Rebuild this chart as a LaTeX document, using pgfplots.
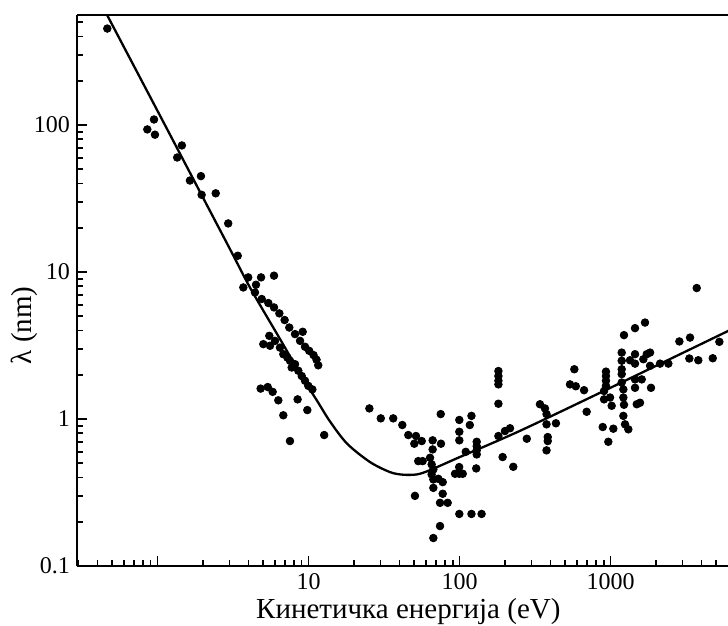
\documentclass[border=0pt]{standalone}
\usepackage{fontspec}
\setmainfont{Liberation Serif}
\usepackage{pgfplots}
\pgfplotsset{compat=1.18}
\begin{document}
\begin{tikzpicture}
\begin{loglogaxis}[
  at={(0,0)}, anchor=south west,
  scale only axis, width=325.5pt, height=275.5pt,
  xmin=0.293, xmax=6000, ymin=0.1, ymax=560,
  axis lines=left, axis line style={-, line width=1pt, black},
  tick align=inside,
  major tick length=5pt, minor tick length=3pt,
  every tick/.style={black, line width=0.9pt},
  xtick={1,10,100,1000}, xticklabels={,10,100,1000},
  minor xtick={0.3,0.4,0.5,0.6,0.7,0.8,0.9,2,3,4,5,6,7,8,9,20,30,40,50,60,70,80,90,200,300,400,500,600,700,800,900,2000,3000,4000,5000},
  ytick={0.1,1,10,100}, yticklabels={0.1,1,10,100},
  minor ytick={0.2,0.3,0.4,0.5,0.6,0.7,0.8,0.9,2,3,4,5,6,7,8,9,20,30,40,50,60,70,80,90,200,300,400,500},
  tick label style={font=\fontsize{12}{14}\selectfont},
  /pgf/number format/assume math mode=true,
  xlabel={Кинетичка енергија (eV)},
  ylabel={λ (nm)},
  label style={font=\fontsize{14.5}{16}\selectfont},
  xlabel style={at={(axis description cs:0.509,-0.0944)}, anchor=base},
  ylabel style={at={(axis description cs:-0.0814,0.437)}, anchor=center},
  clip=true,
  after end axis/.code={\draw[line width=1pt] (rel axis cs:0,1) -- (rel axis cs:1,1);},
]
\addplot[black, line width=1.15pt, smooth, no markers] table {
E L
0.44 620
1.12 100
2 32.1
3 14.5
4 8.2
5 5.5
6 4.0
7 3.05
8.79 2.03
10 1.64
11.4 1.33
13.9 0.96
18 0.68
25.5 0.51
34.7 0.435
42.3 0.418
52.3 0.42
63.8 0.449
100 0.55
251 0.83
1023 1.65
6100 4.0
};
\addplot[only marks, mark=*, mark size=1.9pt, black] table {
E L
0.465 453
0.856 93.3
0.948 109
0.962 85.9
1.35 60.1
1.45 72.6
1.64 41.9
1.94 44.9
1.96 33.5
2.43 34.3
2.94 21.4
3.40 12.9
3.70 7.85
3.99 9.19
4.85 9.19
5.91 9.44
4.49 8.19
4.42 7.26
4.90 6.55
5.42 6.15
5.91 5.74
6.41 5.23
6.95 4.71
7.46 4.19
8.14 3.78
9.15 3.92
8.79 3.40
9.48 3.10
10.1 2.91
10.8 2.72
11.3 2.53
11.6 2.32
5.50 3.68
5.02 3.23
5.56 3.15
6.00 3.40
6.47 3.06
6.81 2.76
7.24 2.62
7.54 2.49
7.74 2.24
8.14 2.36
8.56 2.13
9.02 1.96
9.48 1.82
9.97 1.68
10.6 1.59
4.82 1.61
5.37 1.65
5.79 1.53
6.31 1.34
6.81 1.06
8.47 1.36
9.82 1.15
12.7 0.778
7.54 0.708
25.3 1.18
30.1 1.01
36.4 1.01
41.8 0.91
45.8 0.778
51.5 0.766
50.2 0.679
56.2 0.708
53.3 0.517
57.0 0.517
50.7 0.300
66.4 0.716
75.1 1.08
75.4 0.679
66.4 0.621
63.8 0.545
65.4 0.491
67.1 0.454
65.4 0.420
67.1 0.388
72.4 0.392
77.4 0.372
67.1 0.340
77.4 0.310
74.3 0.269
83.5 0.269
74.3 0.187
67.1 0.155
99.7 0.985
120 1.05
117 0.91
99.7 0.819
99.7 0.716
110 0.598
130 0.700
130 0.654
130 0.612
130 0.574
129 0.461
99.5 0.471
93.4 0.424
99.7 0.424
105 0.424
99.7 0.226
120 0.226
140 0.226
181 2.12
181 1.96
181 1.82
181 1.72
181 1.27
181 0.766
193 0.551
200 0.828
216 0.865
227 0.473
279 0.734
341 1.26
368 1.18
377 1.08
377 0.92
384 0.754
384 0.708
377 0.612
435 0.935
539 1.72
589 1.67
576 2.18
668 1.57
695 1.12
888 0.882
967 0.700
1044 0.859
933 2.10
933 1.96
933 1.82
933 1.68
906 1.55
906 1.36
993 1.40
1018 1.23
1186 2.83
1186 2.49
1186 2.18
1186 2.02
1186 1.77
1216 1.59
1216 1.40
1228 1.25
1216 1.05
1248 0.92
1312 0.851
1228 3.72
1453 4.15
1692 4.53
1453 2.76
1738 2.76
1828 2.83
1453 2.38
1650 2.55
1453 1.86
1610 1.86
1453 1.63
1854 1.63
1492 1.26
1568 1.29
1828 2.30
2128 2.38
2415 2.38
2857 3.37
3363 3.58
3326 2.58
3814 2.51
3723 7.78
4754 2.59
5258 3.35
1346 2.51
};
\end{loglogaxis}
\pgfresetboundingbox
\path (-38.5pt,-30pt) rectangle (325.5pt,283pt);
\end{tikzpicture}
\end{document}
